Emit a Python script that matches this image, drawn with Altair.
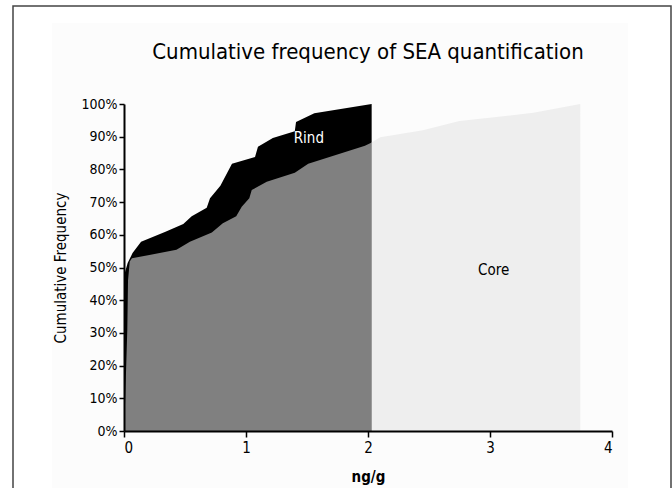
import altair as alt
import pandas as pd

# Rind cumulative curve (ng/g, cumulative fraction)
rind_x = [0, 0.004, 0.03, 0.07, 0.14, 0.34, 0.486, 0.555, 0.678, 0.705, 0.79, 0.885,
          1.074, 1.098, 1.22, 1.40, 1.41, 1.56, 2.03]
rind_y = [0, 0.48, 0.514, 0.544, 0.579, 0.609, 0.633, 0.657, 0.683, 0.712, 0.750, 0.817,
          0.838, 0.869, 0.896, 0.917, 0.945, 0.972, 1.0]

# Core cumulative curve
core_x = [0, 0.005, 0.027, 0.033, 0.047, 0.065, 0.43, 0.54, 0.72, 0.81, 0.92, 0.965,
          1.027, 1.047, 1.17, 1.40, 1.51, 1.975, 2.03, 2.10, 2.45, 2.75, 3.355, 3.74]
core_y = [0, 0.04, 0.31, 0.46, 0.518, 0.528, 0.554, 0.579, 0.607, 0.635, 0.657, 0.686,
          0.712, 0.737, 0.762, 0.790, 0.817, 0.872, 0.882, 0.898, 0.920, 0.948, 0.973, 1.0]

rind_end = 2.03
x_ticks = [0, 1, 2, 3, 4]
y_ticks = [0, 0.1, 0.2, 0.3, 0.4, 0.5, 0.6, 0.7, 0.8, 0.9, 1.0]
title_text = "Cumulative frequency of SEA quantification"

FONT = "DejaVu Sans Condensed"

rind = pd.DataFrame({"x": rind_x, "y": rind_y})
core = pd.DataFrame({"x": core_x, "y": core_y})

x_scale = alt.Scale(domain=[0, 4], nice=False)
y_scale = alt.Scale(domain=[0, 1], nice=False)
x_axis = alt.Axis(values=x_ticks, title="ng/g", format="d", labelFontSize=15,
                  titleFontSize=15, titleFontWeight="bold", titlePadding=14,
                  domainWidth=2, domainColor="black", tickColor="black",
                  tickWidth=1.5, tickSize=6, labelColor="black",
                  titleColor="black", grid=False, zindex=1, labelPadding=3,
                  labelOverlap=False, labelFont=FONT, titleFont=FONT)
y_axis = alt.Axis(values=y_ticks, format=".0%", title="Cumulative Frequency",
                  labelFontSize=14, titleFontSize=15, titleFontWeight="normal",
                  titlePadding=12, domainWidth=2, domainColor="black",
                  tickColor="black", tickWidth=1.5, tickSize=5,
                  labelColor="black", titleColor="black", grid=False, zindex=1,
                  labelPadding=2, labelOverlap=False, labelFont=FONT,
                  titleFont=FONT)
xs = alt.X("x:Q", scale=x_scale, axis=x_axis)
ys = alt.Y("y:Q", scale=y_scale, axis=y_axis)

one = pd.DataFrame({"a": [0]})

frame = alt.Chart(one).mark_rect(
    filled=False, stroke="#444444", strokeWidth=1.5
).encode(x=alt.value(13 - 124), x2=alt.value(671 - 124),
         y=alt.value(6 - 104), y2=alt.value(520 - 104))

panel = alt.Chart(one).mark_rect(
    fill="#fcfcfc", stroke=None
).encode(x=alt.value(52 - 124), x2=alt.value(628 - 124),
         y=alt.value(23 - 104), y2=alt.value(500 - 104))

rind_area = alt.Chart(rind).mark_area(color="black", opacity=1).encode(x=xs, y=ys)

core_in = alt.Chart(core).transform_filter(alt.datum.x <= rind_end).mark_area(
    color="#808080", opacity=1).encode(x=xs, y=ys)
core_out = alt.Chart(core).transform_filter(alt.datum.x >= rind_end).mark_area(
    color="#eeeeee", opacity=1).encode(x=xs, y=ys)

rind_lbl = alt.Chart(pd.DataFrame({"t": ["Rind"]})).mark_text(
    color="white", fontSize=15, font=FONT).encode(
    x=alt.XDatum(1.515, scale=x_scale, axis=x_axis),
    y=alt.YDatum(0.896, scale=y_scale, axis=y_axis), text="t:N")
core_lbl = alt.Chart(pd.DataFrame({"t": ["Core"]})).mark_text(
    color="black", fontSize=15, font=FONT).encode(
    x=alt.XDatum(3.03, scale=x_scale, axis=x_axis),
    y=alt.YDatum(0.492, scale=y_scale, axis=y_axis), text="t:N")

title = alt.Chart(pd.DataFrame({"t": [title_text]})).mark_text(
    color="black", fontSize=22, font=FONT, baseline="middle", align="center").encode(
    x=alt.value(244), y=alt.value(52 - 104), text="t:N")

chart = alt.layer(frame, panel, rind_area, core_in, core_out, rind_lbl, core_lbl,
                  title).properties(
    width=488, height=327,
    autosize=alt.AutoSizeParams(type="none"),
    padding={"left": 124, "top": 104, "right": 60, "bottom": 57},
).configure_view(stroke=None).configure(background="white")

chart.save("out.html", embed_options={"renderer": "svg", "actions": False})
